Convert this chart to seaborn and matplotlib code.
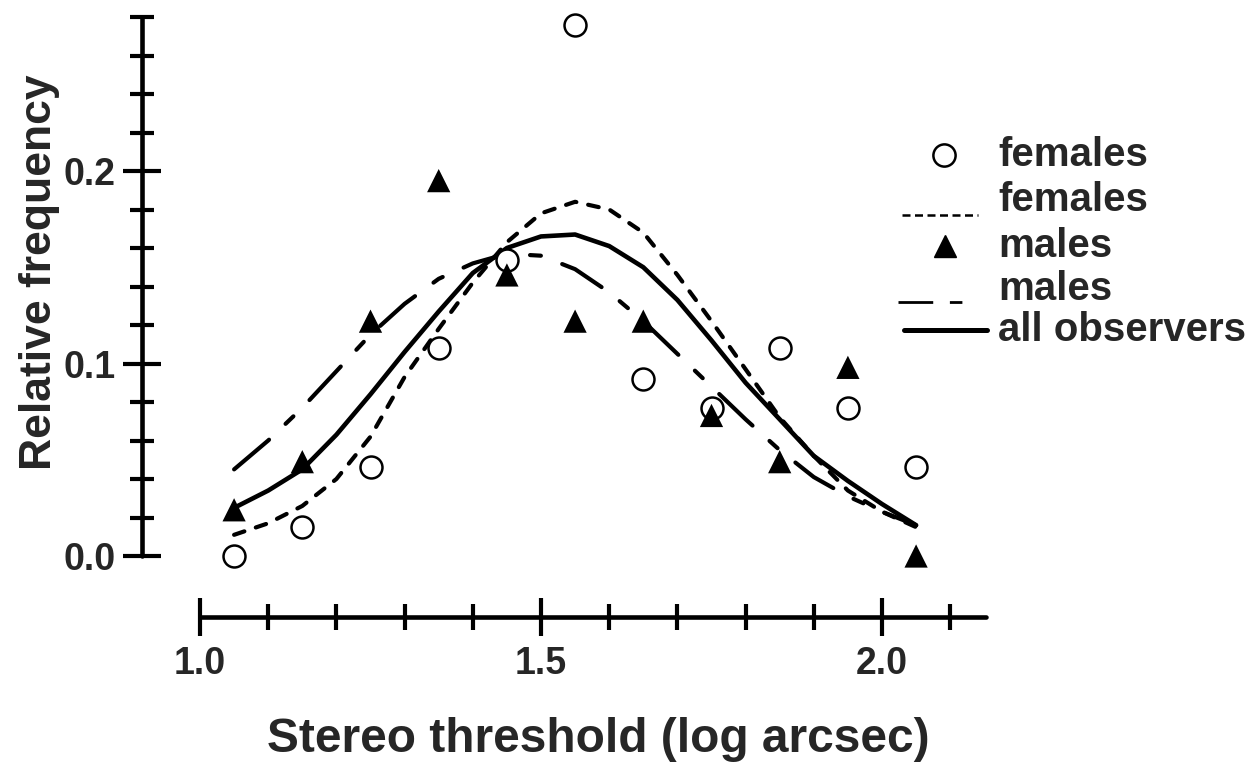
import numpy as np
import pandas as pd
import matplotlib
matplotlib.use("Agg")
import matplotlib.pyplot as plt
from matplotlib.lines import Line2D
import seaborn as sns

# Observed relative frequencies per stereo-threshold bin
thresholds = [1.05, 1.15, 1.25, 1.35, 1.45, 1.55, 1.65, 1.75, 1.85, 1.95, 2.05]
females = [0.0, 0.015, 0.046, 0.108, 0.154, 0.276, 0.092, 0.077, 0.108, 0.077, 0.046]
males = [0.024, 0.049, 0.122, 0.195, 0.146, 0.122, 0.122, 0.073, 0.049, 0.098, 0.0]

# Fitted distributions sampled along the threshold axis
fit_x = [1.05, 1.10, 1.15, 1.20, 1.25, 1.30, 1.35, 1.40, 1.45, 1.50, 1.55,
         1.60, 1.65, 1.70, 1.75, 1.80, 1.85, 1.90, 1.95, 2.00, 2.05]
fit_females = [0.011, 0.017, 0.026, 0.040, 0.062, 0.093, 0.118, 0.142, 0.163, 0.178, 0.184,
               0.180, 0.168, 0.146, 0.122, 0.097, 0.072, 0.052, 0.034, 0.023, 0.015]
fit_males = [0.045, 0.060, 0.077, 0.096, 0.115, 0.131, 0.144, 0.152, 0.157, 0.156, 0.149,
             0.137, 0.122, 0.105, 0.088, 0.071, 0.055, 0.041, 0.031, 0.023, 0.016]
fit_all = [0.025, 0.034, 0.045, 0.063, 0.084, 0.106, 0.127, 0.147, 0.160, 0.166, 0.167,
           0.161, 0.150, 0.133, 0.112, 0.090, 0.071, 0.052, 0.039, 0.027, 0.016]

x_major = [1.0, 1.5, 2.0]
x_minor = [1.1, 1.2, 1.3, 1.4, 1.6, 1.7, 1.8, 1.9, 2.1]
y_major = [0.0, 0.1, 0.2]
y_minor = [0.02, 0.04, 0.06, 0.08, 0.12, 0.14, 0.16, 0.18, 0.22, 0.24, 0.26, 0.28]

legend_labels = ["females", "females", "males", "males", "all observers"]

obs = pd.DataFrame({"threshold": thresholds, "females": females, "males": males})
fits = pd.DataFrame({"threshold": fit_x, "females": fit_females,
                     "males": fit_males, "all": fit_all})

sns.set_style("ticks")
plt.rcParams["font.family"] = ["Liberation Sans", "DejaVu Sans"]
plt.rcParams["font.weight"] = "bold"
plt.rcParams["axes.labelweight"] = "bold"

W, H = 1259, 769
fig = plt.figure(figsize=(W / 100, H / 100), dpi=100)

# axes box in pixels (left, top, right, bottom)
L, T, R, B = 130, 10, 1000, 640
ax = fig.add_axes([L / W, 1 - B / H, (R - L) / W, (B - T) / H])

# pixel <-> data scale
X0_PX, PX_PER_X = 200, 682
Y0_PX, PX_PER_Y = 556, 1925


def px_x(p):
    return 1.0 + (p - X0_PX) / PX_PER_X


def px_y(p):
    return (Y0_PX - p) / PX_PER_Y


ax.set_xlim(px_x(L), px_x(R))
ax.set_ylim(px_y(B), px_y(T))

lw = 3.0
sns.lineplot(data=fits, x="threshold", y="females", ax=ax, color="black", lw=lw,
             linestyle=(0, (2.6, 2.9)), dash_capstyle="round", zorder=2)
sns.lineplot(data=fits, x="threshold", y="males", ax=ax, color="black", lw=lw,
             linestyle=(0, (11, 5.5, 2.6, 5.5)), dash_capstyle="round", zorder=2)
sns.lineplot(data=fits, x="threshold", y="all", ax=ax, color="black", lw=3.3,
             solid_capstyle="round", zorder=2)

sns.scatterplot(data=obs, x="threshold", y="females", ax=ax, marker="o", s=250,
                facecolor="white", edgecolor="black", linewidth=1.8, zorder=3)
sns.scatterplot(data=obs, x="threshold", y="males", ax=ax, marker="^", s=280,
                color="black", edgecolor="none", linewidth=0, zorder=4)

# detached axis lines
for side in ("top", "right"):
    ax.spines[side].set_visible(False)
ax.spines["left"].set_position(("data", px_x(142)))
ax.spines["left"].set_bounds(0.0, 0.28)
ax.spines["bottom"].set_position(("data", px_y(617)))
ax.spines["bottom"].set_bounds(1.0, px_x(986))
for side in ("left", "bottom"):
    ax.spines[side].set_linewidth(3.3)
    ax.spines[side].set_color("black")
    ax.spines[side].set_capstyle("round")

ax.set_xticks(x_major)
ax.set_xticks(x_minor, minor=True)
ax.set_yticks(y_major)
ax.set_yticks(y_minor, minor=True)
ax.set_xticklabels([f"{v:.1f}" for v in x_major])
ax.set_yticklabels([f"{v:.1f}" for v in y_major])
ax.tick_params(which="both", direction="inout", color="black", width=3.0,
               left=True, bottom=True)
ax.tick_params(axis="y", which="major", length=28, pad=5, labelsize=27)
ax.tick_params(axis="y", which="minor", length=17)
ax.tick_params(axis="x", which="major", length=28, pad=7, labelsize=27)
ax.tick_params(axis="x", which="minor", length=19)
for lab in ax.get_xticklabels() + ax.get_yticklabels():
    lab.set_fontweight("bold")

ax.set_xlabel("Stereo threshold (log arcsec)", fontsize=34.5, fontweight="bold")
ax.set_ylabel("Relative frequency", fontsize=32, fontweight="bold")
ax.xaxis.set_label_coords((598 - L) / (R - L), (B - 740) / (B - T))
ax.xaxis.label.set_va("center")
ax.yaxis.set_label_coords((40 - L) / (R - L), (B - 272) / (B - T))
ax.yaxis.label.set_va("center")


# key drawn at the right of the plot
def fx(p):
    return p / W


def fy(p):
    return 1 - p / H


row_y = [155, 200, 246, 289, 330]
for lab, yy in zip(legend_labels, row_y):
    fig.text(fx(998), fy(yy), lab, fontsize=29, fontweight="bold",
             ha="left", va="center")

fig.add_artist(Line2D([fx(944)], [fy(row_y[0])], transform=fig.transFigure,
                      marker="o", markersize=16, markerfacecolor="white",
                      markeredgecolor="black", markeredgewidth=1.8, linestyle="none"))
fig.add_artist(Line2D([fx(902), fx(978)], [fy(215), fy(215)], transform=fig.transFigure,
                      color="black", lw=1.8, linestyle=(0, (3.2, 1.8))))
fig.add_artist(Line2D([fx(945)], [fy(row_y[2])], transform=fig.transFigure,
                      marker="^", markersize=16.5, color="black", linestyle="none"))
fig.add_artist(Line2D([fx(898), fx(962)], [fy(302), fy(302)], transform=fig.transFigure,
                      color="black", lw=2.0, linestyle=(0, (12.5, 6, 4.5, 20))))
fig.add_artist(Line2D([fx(904), fx(987)], [fy(330), fy(330)], transform=fig.transFigure,
                      color="black", lw=3.6))

fig.savefig("out.png", dpi=100, facecolor="white")
